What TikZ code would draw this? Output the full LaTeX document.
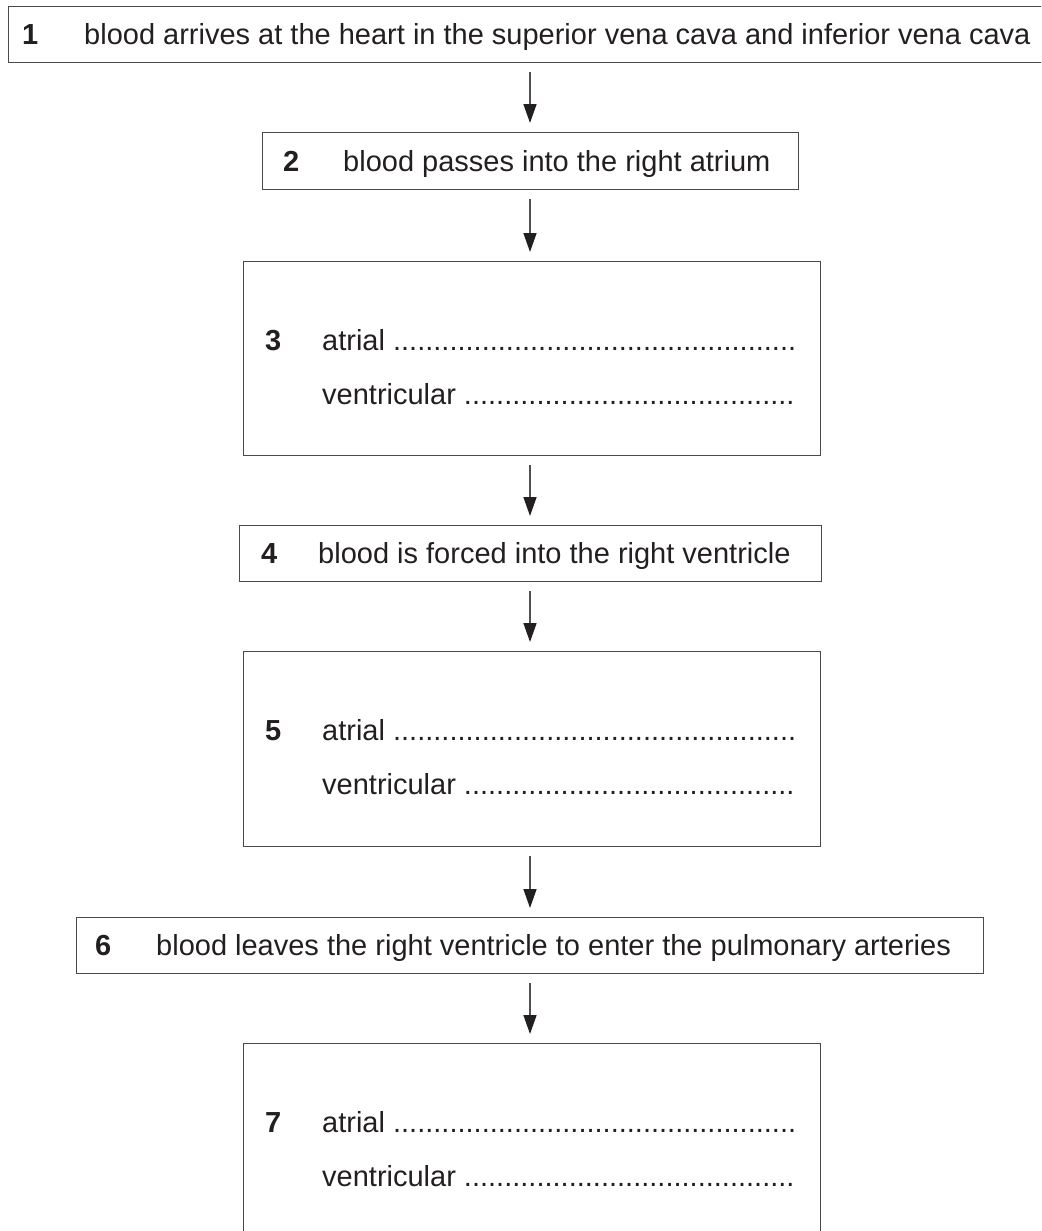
\documentclass[tikz,border=0pt]{standalone}
\usepackage{fontspec}
\setmainfont{Liberation Sans}
\usetikzlibrary{arrows.meta}
\definecolor{ink}{HTML}{231F20}
\definecolor{boxgray}{HTML}{4A4A4A}
\definecolor{arrgray}{HTML}{505050}
\newcommand\fsz{\fontsize{29}{35}\selectfont}
\newcommand\dotsA{..................................................}
\newcommand\dotsB{.........................................}
\tikzset{
  box/.style={draw=boxgray, line width=1.4pt, anchor=north west, inner sep=0pt},
  lbl/.style={anchor=base west, inner sep=0pt, text=ink, font=\fsz},
  num/.style={anchor=base west, inner sep=0pt, text=ink, font=\fsz\bfseries},
  arr/.style={draw=arrgray, line width=1.6pt, -{Triangle[length=19pt,width=13pt,color=ink,fill=ink]}, shorten <=9pt, shorten >=9pt}
}
\begin{document}
\begin{tikzpicture}[x=1pt,y=-1pt]
\useasboundingbox (0,0) rectangle (1041,1231);
\clip (0,0) rectangle (1041,1231);
\coordinate (ax) at (530,0);
% boxes
\node[box, minimum width=1045pt, minimum height=56pt] (b1) at (8,6) {};
\node[box, minimum width=536pt, minimum height=57pt] (b2) at (262,132) {};
\node[box, minimum width=577pt, minimum height=194pt] (b3) at (243,261) {};
\node[box, minimum width=582pt, minimum height=56pt] (b4) at (239,525) {};
\node[box, minimum width=577pt, minimum height=195pt] (b5) at (243,651) {};
\node[box, minimum width=907pt, minimum height=56pt] (b6) at (76,917) {};
\node[box, minimum width=577pt, minimum height=195pt] (b7) at (243,1043) {};
% texts
\node[num] (n1) at (22,44.5) {1};
\node[lbl] (t1) at (84,44.5) {blood arrives at the heart in the superior vena cava and inferior vena cava};
\node[num] (n2) at (283,171) {2};
\node[lbl] (t2) at (343,171) {blood passes into the right atrium};
\node[num] (n3) at (265,350.5) {3};
\node[lbl] (t3a) at (322,350.5) {atrial \dotsA};
\node[lbl] (t3b) at (322,404.5) {ventricular \dotsB};
\node[num] (n4) at (261,563.5) {4};
\node[lbl] (t4) at (318,563.5) {blood is forced into the right ventricle};
\node[num] (n5) at (265,740.5) {5};
\node[lbl] (t5a) at (322,740.5) {atrial \dotsA};
\node[lbl] (t5b) at (322,794.5) {ventricular \dotsB};
\node[num] (n6) at (95,955.5) {6};
\node[lbl] (t6) at (156,955.5) {blood leaves the right ventricle to enter the pulmonary arteries};
\node[num] (n7) at (265,1132.5) {7};
\node[lbl] (t7a) at (322,1132.5) {atrial \dotsA};
\node[lbl] (t7b) at (322,1186.5) {ventricular \dotsB};
% arrows
\draw[arr] (b1.south -| ax) -- (b2.north -| ax);
\draw[arr] (b2.south -| ax) -- (b3.north -| ax);
\draw[arr] (b3.south -| ax) -- (b4.north -| ax);
\draw[arr] (b4.south -| ax) -- (b5.north -| ax);
\draw[arr] (b5.south -| ax) -- (b6.north -| ax);
\draw[arr] (b6.south -| ax) -- (b7.north -| ax);
\end{tikzpicture}
\end{document}
